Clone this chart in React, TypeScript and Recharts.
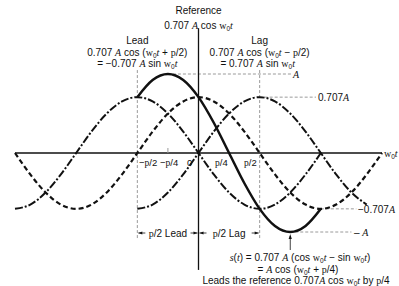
import React from "react";
import { LineChart, Line, XAxis, YAxis, ReferenceLine } from "recharts";

// phase in units of π
const THETA = [-1.5, -1.375, -1.25, -1.125, -1, -0.875, -0.75, -0.625, -0.5, -0.375, -0.25, -0.125, 0,
  0.125, 0.25, 0.375, 0.5, 0.625, 0.75, 0.875, 1, 1.125, 1.25, 1.375, 1.5];

// reference 0.707 A cos w0t (units of A)
const REF = [0, -0.271, -0.5, -0.653, -0.707, -0.653, -0.5, -0.271, 0, 0.271, 0.5, 0.653, 0.707,
  0.653, 0.5, 0.271, 0, -0.271, -0.5, -0.653, -0.707, -0.653, -0.5, -0.271, 0];

// lead: -0.707 A sin w0t
const LEAD = [-0.707, -0.653, -0.5, -0.271, 0, 0.271, 0.5, 0.653, 0.707, 0.653, 0.5, 0.271, 0,
  -0.271, -0.5, -0.653, -0.707, -0.653, -0.5, -0.271, 0, null, null, null, null];

// lag: 0.707 A sin w0t
const LAG = [null, null, null, null, null, null, null, null, -0.707, -0.653, -0.5, -0.271, 0,
  0.271, 0.5, 0.653, 0.707, 0.653, 0.5, 0.271, 0, -0.271, -0.5, -0.653, null];

// s(t) = A cos(w0t + p/4)
const S = [null, null, null, null, null, null, null, null, 0.707, 0.924, 1, 0.924, 0.707,
  0.383, 0, -0.383, -0.707, -0.924, -1, -0.924, -0.707, null, null, null, null];

const W = 399;
const H = 286;
const LEFT = 15;
const RIGHT = 17;
const X_MIN = -1.5;
const X_MAX = 1.5;
const Y0 = 153; // pixel row of the w0t axis
const A_PX = 79; // pixels per A
const Y_MAX = Y0 / A_PX;
const Y_MIN = -(H - Y0) / A_PX;

const px = (t: number) => LEFT + ((t - X_MIN) / (X_MAX - X_MIN)) * (W - LEFT - RIGHT);
const py = (v: number) => Y0 - v * A_PX;

const SANS = "'Liberation Sans', Arial, sans-serif";
const SERIF = "'Liberation Serif', 'Times New Roman', serif";
const INK = "#111";
const GREY = "#9a9a9a";

const data = THETA.map((t, i) => ({ t, ref: REF[i], lead: LEAD[i], lag: LAG[i], s: S[i] }));

const It = ({ children }: { children: React.ReactNode }) => (
  <tspan fontFamily={SERIF} fontStyle="italic">{children}</tspan>
);

// "w0t"
const Wt = () => (
  <>
    <tspan fontFamily={SERIF}>w</tspan>
    <tspan fontSize={6.5} dy={2}>0</tspan>
    <tspan dy={-2} fontFamily={SERIF} fontStyle="italic">t</tspan>
  </>
);

const P = ({ children }: { children: React.ReactNode }) => (
  <tspan fontFamily={SERIF}>{children}</tspan>
);

function Arrow({ x1, x2, y }: { x1: number; x2: number; y: number }) {
  // head at x2
  const d = x2 > x1 ? -1 : 1;
  return (
    <g>
      <line x1={x1} y1={y} x2={x2} y2={y} stroke={INK} strokeWidth={0.8} />
      <path d={`M${x2},${y} L${x2 + d * 4},${y - 1.6} L${x2 + d * 4},${y + 1.6} Z`} fill={INK} />
    </g>
  );
}

function Overlay() {
  const lx = px(-0.5);
  const rx = px(0.5);
  const zx = px(0);
  const ax = px(0.75);
  return (
    <svg
      width={W}
      height={H}
      style={{ position: "absolute", left: 0, top: 0, pointerEvents: "none" }}
      fontFamily={SANS}
      fontSize={10}
      fill={INK}
    >
      {/* top headings */}
      <text x={zx} y={13.5} textAnchor="middle">Reference</text>
      <text x={zx} y={28.5} textAnchor="middle">
        0.707 <It>A</It> cos <Wt />
      </text>

      <text x={lx} y={43.5} textAnchor="middle">Lead</text>
      <text x={lx} y={55.5} textAnchor="middle">
        0.707 <It>A</It> cos (<Wt /> + <P>p</P>/2)
      </text>
      <text x={lx} y={66.5} textAnchor="middle">
        = −0.707 <It>A</It> sin <Wt />
      </text>

      <text x={rx} y={43.5} textAnchor="middle">Lag</text>
      <text x={rx} y={55.5} textAnchor="middle">
        0.707 <It>A</It> cos (<Wt /> − <P>p</P>/2)
      </text>
      <text x={rx - 2} y={66.5} textAnchor="middle">
        = 0.707 <It>A</It> sin <Wt />
      </text>

      {/* level labels */}
      <text x={293} y={py(1) + 3.5}><It>A</It></text>
      <text x={318} y={py(0.707) + 3.5}>0.707<It>A</It></text>
      <text x={358} y={py(-0.707) + 4}>−0.707<It>A</It></text>
      <text x={354} y={py(-1) + 3.5}>– <It>A</It></text>
      <text x={384} y={Y0 + 3.5}><Wt /></text>

      {/* phase tick labels */}
      <line x1={px(-0.25)} y1={Y0 - 5} x2={px(-0.25)} y2={Y0} stroke={GREY} strokeWidth={1} />
      <g fontSize={9.5}>
        <text x={139} y={166}>−<P>p</P>/2</text>
        <text x={160} y={166}>−<P>p</P>/4</text>
        <text x={187} y={166}>0</text>
        <text x={215} y={166}><P>p</P>/4</text>
        <text x={244} y={166}><P>p</P>/2</text>
      </g>

      {/* lead / lag spans */}
      <Arrow x1={lx + 8} x2={lx + 1} y={233} />
      <text x={(lx + zx) / 2} y={236.5} textAnchor="middle"><P>p</P>/2 Lead</text>
      <Arrow x1={zx - 8} x2={zx - 1} y={233} />
      <Arrow x1={zx + 8} x2={zx + 1} y={233} />
      <text x={(zx + rx) / 2} y={236.5} textAnchor="middle"><P>p</P>/2 Lag</text>
      <Arrow x1={rx - 8} x2={rx - 1} y={233} />

      {/* pointer to s(t) */}
      <line x1={ax} y1={250} x2={ax} y2={236} stroke={INK} strokeWidth={0.8} />
      <path d={`M${ax},234 L${ax - 1.6},239 L${ax + 1.6},239 Z`} fill={INK} />

      <text x={300} y={261} textAnchor="middle">
        <It>s</It>(<It>t</It>) = 0.707 <It>A</It> (cos <Wt /> − sin <Wt />)
      </text>
      <text x={298} y={273} textAnchor="middle">
        = <It>A</It> cos (<Wt /> + <P>p</P>/4)
      </text>
      <text x={296} y={284} textAnchor="middle">
        Leads the reference 0.707<It>A</It> cos <Wt /> by <P>p</P>/4
      </text>
    </svg>
  );
}

export default function App() {
  return (
    <div style={{ position: "absolute", left: 0, top: 0, width: W, height: H, background: "#fff" }}>
      <LineChart width={W} height={H} data={data} margin={{ top: 0, right: RIGHT, left: LEFT, bottom: 0 }}>
        <XAxis type="number" dataKey="t" domain={[X_MIN, X_MAX]} hide />
        <YAxis type="number" domain={[Y_MIN, Y_MAX]} allowDataOverflow hide />

        {/* guide lines */}
        <ReferenceLine segment={[{ x: -0.5, y: 1.05 }, { x: -0.5, y: -1.1 }]} stroke={GREY} strokeDasharray="3 2" strokeWidth={1} />
        <ReferenceLine segment={[{ x: 0.5, y: 1.05 }, { x: 0.5, y: -1.1 }]} stroke={GREY} strokeDasharray="3 2" strokeWidth={1} />
        <ReferenceLine segment={[{ x: -0.25, y: 1 }, { x: 0.76, y: 1 }]} stroke={GREY} strokeDasharray="3 2" strokeWidth={1} />
        <ReferenceLine segment={[{ x: 0.5, y: 0.707 }, { x: 0.96, y: 0.707 }]} stroke={GREY} strokeDasharray="3 2" strokeWidth={1} />
        <ReferenceLine segment={[{ x: 1, y: -0.707 }, { x: 1.29, y: -0.707 }]} stroke={GREY} strokeDasharray="3 2" strokeWidth={1} />
        <ReferenceLine segment={[{ x: 0.75, y: -1 }, { x: 1.25, y: -1 }]} stroke={GREY} strokeDasharray="3 2" strokeWidth={1} />

        {/* axes */}
        <ReferenceLine y={0} stroke={INK} strokeWidth={1.3} />
        <ReferenceLine segment={[{ x: 0, y: 1.58 }, { x: 0, y: -1.48 }]} stroke={INK} strokeWidth={1.3} />

        <Line type="monotone" dataKey="ref" stroke={INK} strokeWidth={2.2} strokeDasharray="5 3" dot={false} isAnimationActive={false} />
        <Line type="monotone" dataKey="lead" stroke={INK} strokeWidth={2} strokeDasharray="8 2 2 2" dot={false} isAnimationActive={false} />
        <Line type="monotone" dataKey="lag" stroke={INK} strokeWidth={2} strokeDasharray="8 2 2 2" dot={false} isAnimationActive={false} />
        <Line type="monotone" dataKey="s" stroke={INK} strokeWidth={2.5} dot={false} isAnimationActive={false} />
      </LineChart>
      <Overlay />
    </div>
  );
}
